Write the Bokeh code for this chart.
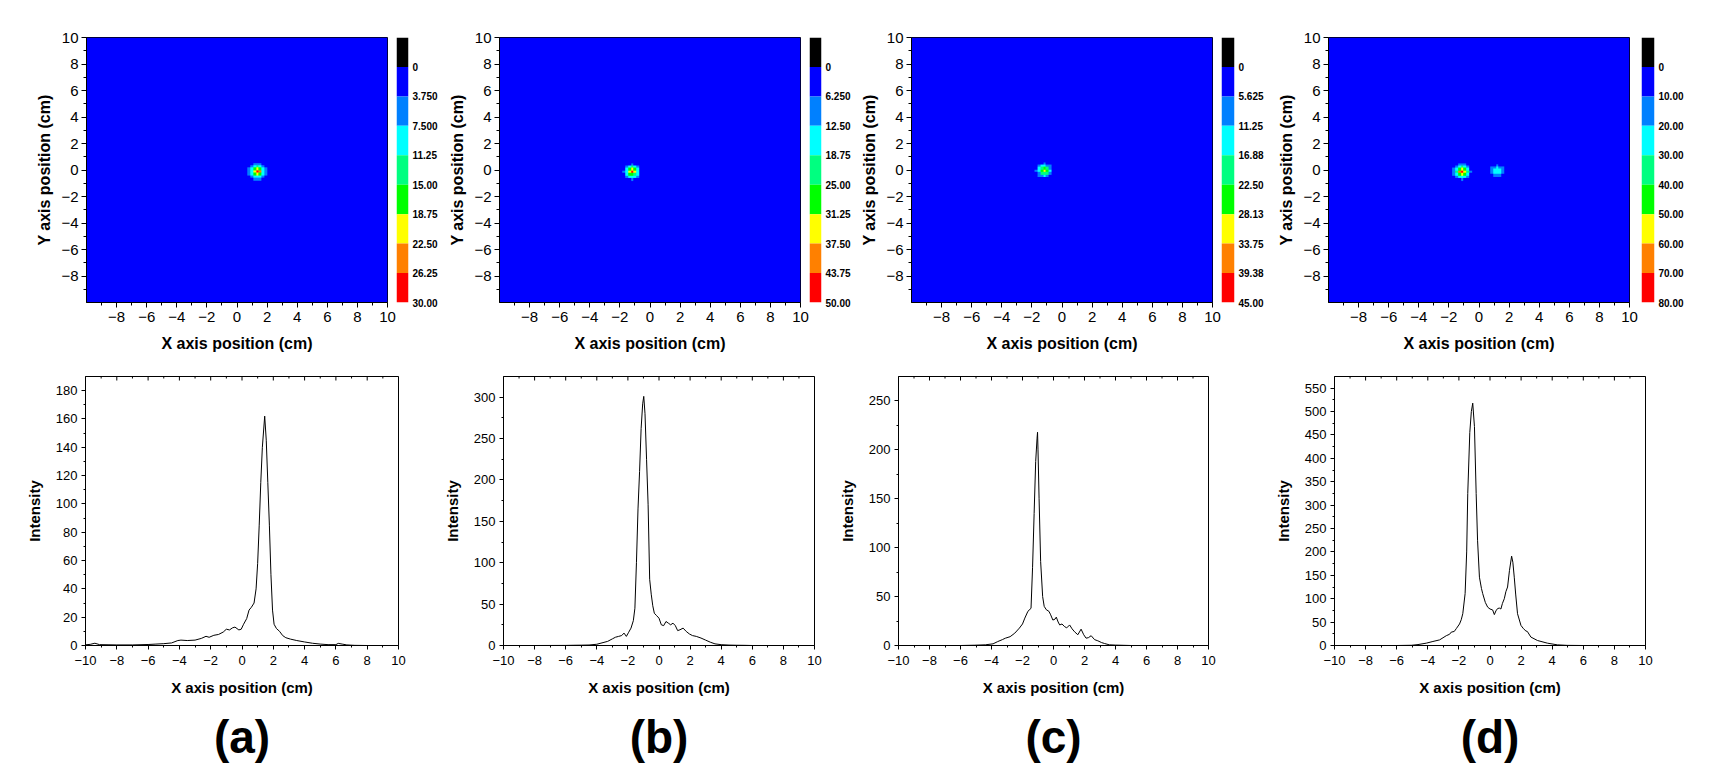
import numpy as np
from bokeh.plotting import figure
from bokeh.models import Range1d, FixedTicker, Title, LinearColorMapper
from bokeh.layouts import row, column
from bokeh.embed import file_html
from bokeh.resources import INLINE

FONT = "Liberation Sans"
band_colors = ["#000000", "#0000FF", "#0080FF", "#00FFFF", "#00FF80",
               "#00FF00", "#FFFF00", "#FF8000", "#FF0000"]

# ---------------- colour-scale levels and labels ----------------
levels_a = [0, 3.75, 7.5, 11.25, 15.0, 18.75, 22.5, 26.25, 30.0]
labels_a = ["0", "3.750", "7.500", "11.25", "15.00", "18.75", "22.50", "26.25", "30.00"]
levels_b = [0, 6.25, 12.5, 18.75, 25.0, 31.25, 37.5, 43.75, 50.0]
labels_b = ["0", "6.250", "12.50", "18.75", "25.00", "31.25", "37.50", "43.75", "50.00"]
levels_c = [0, 5.625, 11.25, 16.875, 22.5, 28.125, 33.75, 39.375, 45.0]
labels_c = ["0", "5.625", "11.25", "16.88", "22.50", "28.13", "33.75", "39.38", "45.00"]
levels_d = [0, 10.0, 20.0, 30.0, 40.0, 50.0, 60.0, 70.0, 80.0]
labels_d = ["0", "10.00", "20.00", "30.00", "40.00", "50.00", "60.00", "70.00", "80.00"]

# ---------------- 2D maps: background level and spot cells ----------------
bg_a, bg_b, bg_c, bg_d = 1.0, 1.5, 1.2, 2.0
cell = 0.19
spot_a_center = (1.35, -0.15)
spot_a = [[0.5, 2, 4, 5, 4, 2, 0.5],
          [2, 5, 9, 12, 10, 6, 2],
          [4, 9, 16, 21, 17, 9, 4],
          [5, 11, 20, 28, 23, 11, 5],
          [4, 9, 15, 19, 16, 8, 4],
          [2, 5, 8, 10, 8, 5, 2],
          [0.5, 2, 4, 5, 4, 2, 0.5]]
spot_b_center = (-1.18, -0.17)
spot_b = [[1, 3, 6, 8, 6, 3, 1],
          [3, 8, 15, 19, 15, 8, 3],
          [6, 15, 27, 33, 26, 14, 5],
          [7, 18, 34, 47, 32, 16, 6],
          [6, 14, 25, 30, 24, 13, 5],
          [3, 8, 13, 16, 13, 7, 3],
          [1, 3, 6, 7, 6, 3, 1]]
spot_c_center = (-1.16, -0.1)
spot_c = [[1, 3, 5, 6, 4, 2, 1],
          [3, 7, 12, 14, 11, 6, 2],
          [5, 12, 20, 25, 19, 11, 4],
          [6, 14, 26, 30, 24, 12, 5],
          [5, 11, 19, 22, 18, 10, 4],
          [2, 6, 10, 12, 9, 5, 2],
          [1, 2, 4, 5, 4, 2, 1]]
spot_d1_center = (-1.12, -0.17)
spot_d1 = [[2, 6, 10, 13, 10, 6, 2],
           [6, 15, 28, 35, 27, 14, 5],
           [10, 28, 48, 58, 46, 26, 9],
           [12, 33, 60, 76, 58, 30, 10],
           [10, 26, 45, 52, 44, 24, 9],
           [5, 13, 24, 28, 22, 12, 4],
           [2, 5, 9, 11, 9, 5, 2]]
spot_d2_center = (1.21, -0.05)
spot_d2 = [[1, 4, 8, 10, 8, 4, 1],
           [4, 11, 17, 21, 17, 10, 3],
           [6, 15, 24, 27, 23, 14, 5],
           [5, 13, 21, 23, 20, 12, 4],
           [2, 6, 10, 12, 10, 6, 2]]

# ---------------- 1D intensity profiles ----------------
x_a = [-10, -9.7, -9.4, -9.1, -8.5, -8, -7, -6, -5.5, -5,
       -4.5, -4.1, -3.9, -3.5, -3.0, -2.6, -2.3, -2.1, -1.8, -1.5,
       -1.2, -1.0, -0.8, -0.6, -0.45, -0.2, -0.05, 0.1, 0.3, 0.45,
       0.6, 0.77, 0.9, 1.0, 1.1, 1.2, 1.3, 1.45, 1.55, 1.65,
       1.75, 1.85, 1.95, 2.05, 2.2, 2.4, 2.6, 2.8, 3.1, 3.5,
       4.0, 4.5, 5.0, 5.5, 6.0, 6.15, 6.4, 6.7, 7.2, 8, 9, 10]
y_a = [0.5, 0.8, 1.6, 0.6, 0.5, 0.4, 0.4, 0.7, 1.0, 1.3,
       1.8, 3.5, 3.8, 3.5, 3.8, 5.0, 6.5, 5.8, 7.2, 7.8,
       9.5, 11.5, 11.0, 12.5, 13.0, 11.0, 11.5, 15.0, 19.0, 25.0,
       27.0, 30.0, 40, 58, 85, 115, 140, 162, 145, 115,
       85, 50, 25, 15, 12, 10, 7, 5.5, 4.5, 3.5,
       2.5, 1.6, 1.0, 0.6, 0.6, 1.5, 1.0, 0.4, 0.1, 0, 0, 0]

x_b = [-10, -8, -6, -5.5, -5, -4.5, -4.0, -3.6, -3.3, -3.0,
       -2.8, -2.6, -2.4, -2.25, -2.1, -1.95, -1.8, -1.65, -1.55, -1.45,
       -1.35, -1.25, -1.15, -1.05, -0.98, -0.9, -0.8, -0.7, -0.6, -0.5,
       -0.4, -0.3, -0.15, 0.0, 0.15, 0.3, 0.45, 0.6, 0.75, 0.9,
       1.05, 1.2, 1.35, 1.55, 1.75, 1.95, 2.15, 2.4, 2.7, 3.0,
       3.3, 3.6, 4.0, 4.5, 5.0, 5.5, 6, 8, 10]
y_b = [0, 0, 0.1, 0.3, 0.4, 0.6, 1.5, 3.5, 5, 8,
       10, 11, 12, 15, 11, 16, 21, 30, 45, 100,
       165, 210, 262, 292, 301, 280, 225, 170, 80, 62,
       48, 39, 36, 33, 25, 24, 29, 27, 25, 27,
       24, 18, 19, 21, 17, 14, 12, 11, 9, 6.5,
       4, 2, 1, 0.5, 0.3, 0.2, 0, 0, 0]

x_c = [-10, -8, -6, -5.1, -4.4, -3.9, -3.6, -3.3, -3.1, -2.8,
       -2.5, -2.2, -2.0, -1.85, -1.65, -1.45, -1.35, -1.25, -1.15, -1.06,
       -1.03, -1.0, -0.93, -0.83, -0.7, -0.6, -0.46, -0.3, -0.2, -0.04,
       0.1, 0.18, 0.3, 0.4, 0.55, 0.7, 0.85, 1.04, 1.2, 1.36,
       1.57, 1.78, 1.95, 2.1, 2.25, 2.43, 2.65, 2.86, 3.1, 3.3,
       3.6, 4.0, 4.5, 5, 6, 8, 10]
y_c = [0, 0, 0, 0.3, 0.7, 1.7, 4, 6, 7.5, 9,
       12.6, 17.8, 22, 28, 35, 38, 80, 135, 188, 212,
       218, 200, 150, 86, 50, 40, 36.5, 35, 32, 26,
       27, 29, 24, 21, 22, 19.5, 18, 21, 17, 14,
       11, 16.7, 11, 7.5, 8, 10, 6, 4.8, 3, 2,
       0.7, 0.4, 0.2, 0, 0, 0, 0]

x_d = [-10, -8, -6, -5.05, -4.63, -4.1, -3.67, -3.24, -2.81, -2.6,
       -2.49, -2.3, -2.17, -1.96, -1.85, -1.75, -1.6, -1.5, -1.43, -1.3,
       -1.2, -1.11, -1.0, -0.89, -0.8, -0.68, -0.55, -0.47, -0.3, -0.15,
       0.0, 0.17, 0.28, 0.38, 0.49, 0.6, 0.7, 0.8, 0.92, 1.02,
       1.13, 1.25, 1.39, 1.47, 1.56, 1.65, 1.77, 1.99, 2.15, 2.31,
       2.4, 2.63, 3.05, 3.69, 4.33, 4.97, 6, 8, 10]
y_d = [0, 0, 0, 0.5, 2, 5, 8.6, 12, 21, 24,
       28.6, 30, 36, 46, 55, 68, 111, 200, 325, 455,
       500, 518, 468, 325, 225, 146, 122, 111, 92, 82,
       78, 76, 66, 74, 79, 80, 78, 90, 100, 115,
       125, 160, 191, 178, 146, 110, 68, 43, 36, 31,
       30, 18, 10.7, 5, 1.4, 0.3, 0, 0, 0]

map_ticks = [-8, -6, -4, -2, 0, 2, 4, 6, 8, 10]
map_minor = [-9, -7, -5, -3, -1, 1, 3, 5, 7, 9]
prof_xticks = [-10, -8, -6, -4, -2, 0, 2, 4, 6, 8, 10]
prof_xminor = [-9, -7, -5, -3, -1, 1, 3, 5, 7, 9]
ymax_a, yticks_a, yminor_a = 190, [0, 20, 40, 60, 80, 100, 120, 140, 160, 180], [10, 30, 50, 70, 90, 110, 130, 150, 170]
ymax_b, yticks_b, yminor_b = 325, [0, 50, 100, 150, 200, 250, 300], [25, 75, 125, 175, 225, 275]
ymax_c, yticks_c, yminor_c = 275, [0, 50, 100, 150, 200, 250], [25, 75, 125, 175, 225]
ymax_d, yticks_d, yminor_d = 575, [0, 50, 100, 150, 200, 250, 300, 350, 400, 450, 500, 550], [25, 75, 125, 175, 225, 275, 325, 375, 425, 475, 525]
panel_labels = ["(a)", "(b)", "(c)", "(d)"]

# ---------------- layout constants ----------------
MAP_TOP, MAP_H, MAP_BOTTOM, MAP_W = 37, 265, 66, 301
PROF_TOP, PROF_H, PROF_BOTTOM = 8, 269, 136


def style_axis(ax, label_size, tick_out, minor_out):
    ax.axis_line_color = "black"
    ax.major_tick_line_color = "black"
    ax.minor_tick_line_color = "black"
    ax.major_tick_in = 0
    ax.major_tick_out = tick_out
    ax.minor_tick_in = 0
    ax.minor_tick_out = minor_out
    ax.major_label_text_font = FONT
    ax.major_label_text_font_size = label_size
    ax.major_label_text_color = "black"
    ax.axis_label_text_font = FONT
    ax.axis_label_text_font_style = "bold"
    ax.axis_label_text_color = "black"


def heatmap(levels, bg, spots, left, right):
    p = figure(width=left + MAP_W + right, height=MAP_TOP + MAP_H + MAP_BOTTOM,
               x_range=Range1d(-10, 10), y_range=Range1d(-10, 10),
               output_backend="svg", toolbar_location=None,
               min_border_left=left, min_border_right=right,
               min_border_top=MAP_TOP, min_border_bottom=MAP_BOTTOM)
    mapper = LinearColorMapper(palette=band_colors[1:], low=levels[0], high=levels[-1],
                               low_color=band_colors[0], high_color=band_colors[-1])
    p.image(image=[np.array([[bg]], dtype=float)], x=-10, y=-10, dw=20, dh=20, color_mapper=mapper)
    for (cx, cy), rows in spots:
        arr = np.array(rows, dtype=float)[::-1]
        h, w = arr.shape
        p.image(image=[arr], x=cx - w * cell / 2, y=cy - h * cell / 2,
                dw=w * cell, dh=h * cell, color_mapper=mapper)
    p.grid.visible = False
    p.outline_line_color = "black"
    p.outline_line_alpha = 1
    p.xaxis.ticker = FixedTicker(ticks=map_ticks, minor_ticks=map_minor)
    p.yaxis.ticker = FixedTicker(ticks=map_ticks, minor_ticks=map_minor)
    p.xaxis.axis_label = "X axis position (cm)"
    p.yaxis.axis_label = "Y axis position (cm)"
    for ax in (p.xaxis[0], p.yaxis[0]):
        style_axis(ax, "15px", 5, 3)
        ax.axis_label_text_font_size = "16px"
    p.xaxis.major_label_standoff = 4
    p.xaxis.axis_label_standoff = 10
    p.yaxis.major_label_standoff = 3
    p.yaxis.axis_label_standoff = 5
    return p


def colorbar(levels, labels, right):
    step = levels[1] - levels[0]
    tops = [levels[0] - step] + levels[:-1]
    p = figure(width=13 + right, height=MAP_TOP + MAP_H + MAP_BOTTOM,
               x_range=Range1d(0, 1), y_range=Range1d(levels[-1], tops[0]),
               x_axis_location=None, y_axis_location="right",
               output_backend="svg", toolbar_location=None,
               min_border_left=0, min_border_right=right,
               min_border_top=MAP_TOP, min_border_bottom=MAP_BOTTOM)
    p.quad(left=0, right=1, top=tops, bottom=levels, fill_color=band_colors, line_color=None)
    p.grid.visible = False
    p.outline_line_color = None
    ax = p.yaxis[0]
    ax.ticker = FixedTicker(ticks=levels, minor_ticks=[])
    ax.major_label_overrides = {lv: lb for lv, lb in zip(levels, labels)}
    ax.axis_line_color = None
    ax.major_tick_line_color = None
    ax.minor_tick_line_color = None
    ax.major_tick_in = 0
    ax.major_tick_out = 0
    ax.major_label_standoff = 4
    ax.major_label_text_font = FONT
    ax.major_label_text_font_size = "10px"
    ax.major_label_text_font_style = "bold"
    ax.major_label_text_color = "black"
    return p


def profile(xs, ys, ymax, yticks, yminor, left, fw, right, label):
    p = figure(width=left + fw + right, height=PROF_TOP + PROF_H + PROF_BOTTOM,
               x_range=Range1d(-10, 10), y_range=Range1d(0, ymax),
               output_backend="svg", toolbar_location=None,
               min_border_left=left, min_border_right=right,
               min_border_top=PROF_TOP, min_border_bottom=PROF_BOTTOM)
    p.line(xs, ys, line_color="black", line_width=1)
    # inward tick marks along the top edge of the frame
    p.scatter(x=prof_xticks, y=[ymax] * len(prof_xticks), marker="dash", angle=np.pi / 2,
              size=8, line_color="black", line_width=1)
    p.scatter(x=prof_xminor, y=[ymax] * len(prof_xminor), marker="dash", angle=np.pi / 2,
              size=4, line_color="black", line_width=1)
    p.grid.visible = False
    p.outline_line_color = "black"
    p.outline_line_alpha = 1
    p.xaxis.ticker = FixedTicker(ticks=prof_xticks, minor_ticks=prof_xminor)
    p.yaxis.ticker = FixedTicker(ticks=yticks, minor_ticks=yminor)
    p.xaxis.axis_label = "X axis position (cm)"
    p.yaxis.axis_label = "Intensity"
    for ax in (p.xaxis[0], p.yaxis[0]):
        style_axis(ax, "13px", 4, 2)
        ax.axis_label_text_font_size = "15px"
    p.xaxis.major_label_standoff = 6
    p.xaxis.axis_label_standoff = 11
    p.yaxis.major_label_standoff = 4
    p.yaxis.axis_label_standoff = 10
    p.add_layout(Title(text=label, align="center", text_font=FONT, text_font_size="46px",
                       text_font_style="bold", text_color="black", standoff=20), "below")
    return p


hm_a = heatmap(levels_a, bg_a, [(spot_a_center, spot_a)], 86, 9)
cb_a = colorbar(levels_a, labels_a, 31)
hm_b = heatmap(levels_b, bg_b, [(spot_b_center, spot_b)], 59, 9)
cb_b = colorbar(levels_b, labels_b, 31)
hm_c = heatmap(levels_c, bg_c, [(spot_c_center, spot_c)], 58, 9)
cb_c = colorbar(levels_c, labels_c, 35)
hm_d = heatmap(levels_d, bg_d, [(spot_d1_center, spot_d1), (spot_d2_center, spot_d2)], 59, 12)
cb_d = colorbar(levels_d, labels_d, 44)

pr_a = profile(x_a, y_a, ymax_a, yticks_a, yminor_a, 85, 313, 42, panel_labels[0])
pr_b = profile(x_b, y_b, ymax_b, yticks_b, yminor_b, 62, 312, 21, panel_labels[1])
pr_c = profile(x_c, y_c, ymax_c, yticks_c, yminor_c, 62, 311, 63, panel_labels[2])
pr_d = profile(x_d, y_d, ymax_d, yticks_d, yminor_d, 62, 312, 12, panel_labels[3])

layout = column(row(hm_a, cb_a, hm_b, cb_b, hm_c, cb_c, hm_d, cb_d),
                row(pr_a, pr_b, pr_c, pr_d))

open("out.html", "w").write(file_html(layout, INLINE))
